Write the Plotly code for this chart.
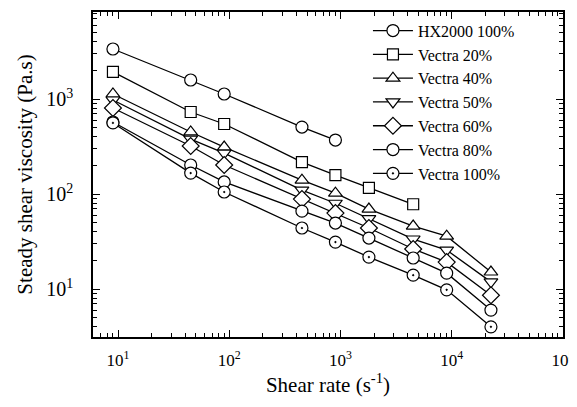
import plotly.graph_objects as go

# Shear rates (s^-1)
shear_rate = [9, 45, 90, 450, 900, 1800, 4500, 9000, 22500]

# Steady shear viscosity (Pa.s)
hx2000_100 = [3360, 1585, 1130, 507, 370]
vectra_20 = [1930, 730, 546, 217, 158, 116, 78]
vectra_40 = [1130, 450, 312, 140, 102, 69.5, 46, 36, 15.1]
vectra_50 = [976, 379, 270, 110, 80, 55, 33.6, 25.7, 11.9]
vectra_60 = [804, 320, 202, 88.5, 63, 43.9, 26.4, 19.2, 8.6]
vectra_80 = [573, 202, 134, 66, 49.5, 34.4, 21.2, 14.7, 6.0]
vectra_100 = [560, 166, 105, 43.9, 31.2, 21.7, 14.0, 9.8, 4.0]

series = [
    ("HX2000 100%", hx2000_100, "circle", 12),
    ("Vectra 20%", vectra_20, "square", 11),
    ("Vectra 40%", vectra_40, "triangle-up", 12),
    ("Vectra 50%", vectra_50, "triangle-down", 12),
    ("Vectra 60%", vectra_60, "diamond", 13),
    ("Vectra 80%", vectra_80, "circle", 12),
    ("Vectra 100%", vectra_100, "circle-dot", 12),
]

x_tickvals = [10, 100, 1000, 10000, 100000]
x_ticktext = ["10<sup>1</sup>", "10<sup>2</sup>", "10<sup>3</sup>", "10<sup>4</sup>", "10<sup>5</sup>"]
y_tickvals = [10, 100, 1000]
y_ticktext = ["10<sup>1</sup>", "10<sup>2</sup>", "10<sup>3</sup>"]

FONT = "Liberation Serif"

fig = go.Figure()
for name, vals, sym, size in series:
    fig.add_trace(go.Scatter(
        x=shear_rate[:len(vals)], y=vals, name=name,
        mode="lines+markers",
        line=dict(color="black", width=1.3),
        marker=dict(symbol=sym, size=size, color="white",
                    line=dict(color="black", width=1.2)),
    ))

axis_common = dict(
    type="log", showgrid=False, zeroline=False, automargin=False,
    showline=True, linecolor="black", linewidth=1.5, mirror="ticks",
    ticks="inside", ticklen=7, tickcolor="black", tickwidth=1.2,
    minor=dict(ticks="inside", ticklen=4, tickcolor="black", tickwidth=1, dtick="D1", showgrid=False),
    ticklabeloverflow="allow",
)

# the page body adds an 8px offset, so the figure is sized/margined to compensate
fig.update_layout(
    width=569, height=389,
    margin=dict(l=85, r=14, t=4, b=60),
    paper_bgcolor="white", plot_bgcolor="white",
    font=dict(family=FONT, size=18, color="black"),
    xaxis=dict(axis_common, range=[0.775, 5.0],
               tickvals=x_tickvals, ticktext=x_ticktext,
               tickfont=dict(family=FONT, size=17, color="black"),
               ticklabelstandoff=7,
               title=dict(text="Shear rate (s<sup>-1</sup>)", font=dict(family=FONT, size=21, color="black"), standoff=15)),
    yaxis=dict(axis_common, range=[0.495, 3.916],
               tickvals=y_tickvals, ticktext=y_ticktext,
               tickfont=dict(family=FONT, size=20, color="black"),
               ticklabelstandoff=14,
               title=dict(text="Steady shear viscosity (Pa.s)", font=dict(family=FONT, size=21, color="black"), standoff=8)),
    legend=dict(x=0.585, y=0.995, xanchor="left", yanchor="top",
                bgcolor="rgba(0,0,0,0)", borderwidth=0,
                font=dict(family=FONT, size=16, color="black"),
                itemwidth=40),
    showlegend=True,
)

fig.write_html("out.html")
